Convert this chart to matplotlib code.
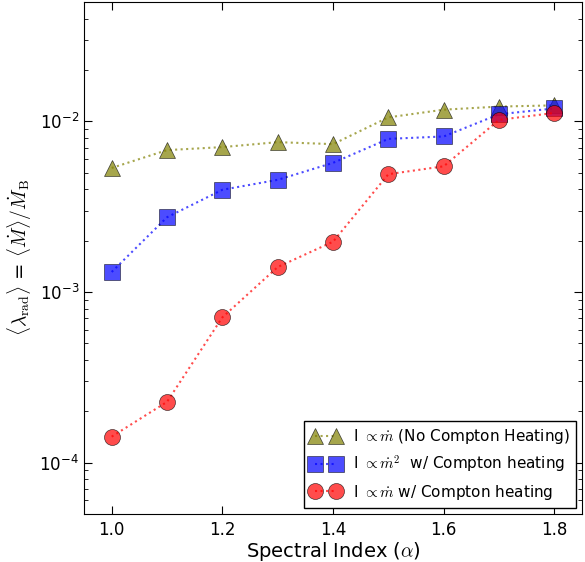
import numpy as np
import matplotlib
matplotlib.use("Agg")
import matplotlib.pyplot as plt

plt.rcParams['mathtext.fontset'] = 'cm'
plt.rcParams['font.family'] = 'DejaVu Sans'

alpha_idx = [1.0, 1.1, 1.2, 1.3, 1.4, 1.5, 1.6, 1.7, 1.8]
lam_no_compton = [5.33e-3, 6.78e-3, 7.06e-3, 7.55e-3, 7.35e-3, 1.055e-2, 1.17e-2, 1.22e-2, 1.24e-2]
lam_mdot2 = [1.31e-3, 2.74e-3, 3.97e-3, 4.54e-3, 5.71e-3, 7.89e-3, 8.15e-3, 1.10e-2, 1.19e-2]
lam_mdot = [1.42e-4, 2.27e-4, 7.10e-4, 1.40e-3, 1.97e-3, 4.90e-3, 5.45e-3, 1.02e-2, 1.12e-2]

fig = plt.figure(figsize=(5.85, 5.62), dpi=100)
ax = fig.add_axes([0.1436, 0.0854, 0.8514, 0.911])

ax.plot(alpha_idx, lam_no_compton, ':^', color='olive', alpha=0.7, markersize=11.5,
        markeredgecolor='k', markeredgewidth=0.5,
        label=r'I $\propto\dot{m}$ (No Compton Heating)')
ax.plot(alpha_idx, lam_mdot2, ':s', color='b', alpha=0.7, markersize=11.5,
        markeredgecolor='k', markeredgewidth=0.5,
        label=r'I $\propto\dot{m}^2$  w/ Compton heating')
ax.plot(alpha_idx, lam_mdot, ':o', color='r', alpha=0.7, markersize=11.5,
        markeredgecolor='k', markeredgewidth=0.5,
        label=r'I $\propto\dot{m}$ w/ Compton heating')

ax.set_yscale('log')
ax.set_xlim(0.95, 1.85)
ax.set_ylim(5e-5, 5e-2)
ax.set_xticks([1.0, 1.2, 1.4, 1.6, 1.8])
ax.tick_params(which='both', direction='in', top=True, right=True, labelsize=12)
ax.tick_params(which='major', length=6)
ax.tick_params(which='minor', length=3)
ax.tick_params(axis='x', pad=5)

ax.set_xlabel(r'Spectral Index ($\alpha$)', fontsize=14, labelpad=1)
ax.set_ylabel(r'$\langle\lambda_{\rm rad}\rangle$ = $\langle\dot{M}\rangle/\dot{M}_{\rm B}$', fontsize=14)

leg = ax.legend(loc='lower right', numpoints=2, fontsize=11, fancybox=False,
                framealpha=1, edgecolor='k', borderaxespad=0.4)
leg.get_frame().set_linewidth(1.0)

fig.savefig('out.png', dpi=100)
